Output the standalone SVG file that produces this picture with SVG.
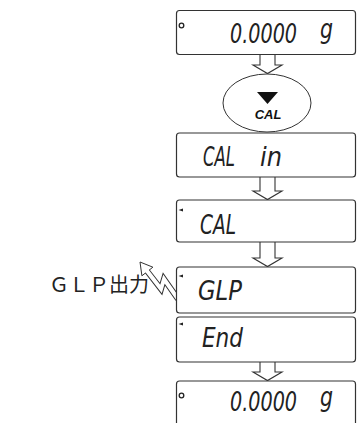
<svg xmlns="http://www.w3.org/2000/svg" width="363" height="423" viewBox="0 0 363 423">
<style>
.box{fill:#fff;stroke:#333;stroke-width:1.2}
.arr{fill:#fff;stroke:#333;stroke-width:1.1}
.seg{font-family:"DejaVu Sans","Liberation Sans",sans-serif;font-stretch:condensed;font-style:italic;font-size:26px;fill:#222}
.ind{fill:none;stroke:#222;stroke-width:1.3}
.lbl{font-family:"Noto Sans CJK JP","Noto Sans CJK SC",sans-serif;font-size:20px;fill:#222}
</style>
<g id="connectors">
<path class="arr" d="M260,54 V65 H253 L267.5,73.5 L282,65 H275 V54"/>
<path class="arr" d="M260,177 V191 H253 L267.5,199.5 L282,191 H275 V177"/>
<path class="arr" d="M260,242 V258 H253 L267.5,266.5 L282,258 H275 V242"/>
<path class="arr" d="M260,362 V372 H253 L267.5,380.5 L282,372 H275 V362"/>
<g id="bolt">
<polyline points="147.4,271.5 161,289 164,279 178,299" fill="none" stroke="#333" stroke-width="6" stroke-linejoin="miter" stroke-miterlimit="10"/>
<polygon points="140,262 152.9,267.2 141.9,275.8" fill="#fff" stroke="#333" stroke-width="1"/>
<polyline points="146.5,270.3 161,289 164,279 178,299" fill="none" stroke="#fff" stroke-width="4" stroke-linejoin="miter" stroke-miterlimit="10"/>
</g>
</g>
<g id="n1">
<rect class="box" x="176.5" y="10.5" width="179" height="44" rx="3"/>
<circle class="ind" cx="181.5" cy="25.5" r="2.3"/>
<text class="seg" x="230" y="43" textLength="67" lengthAdjust="spacingAndGlyphs">0.0000</text>
<text class="seg" x="320" y="38" textLength="13" lengthAdjust="spacingAndGlyphs">g</text>
</g>
<g id="n2">
<ellipse cx="267" cy="103" rx="44" ry="29" fill="#fff" stroke="#333" stroke-width="1"/>
<polygon points="257,92 278,92 267.5,104" fill="#111"/>
<text x="268" y="119" text-anchor="middle" font-family="Liberation Sans, Arial, sans-serif" font-weight="bold" font-style="italic" font-size="13" fill="#111">CAL</text>
</g>
<g id="n3">
<rect class="box" x="176.5" y="133" width="179" height="44" rx="3"/>
<text class="seg" y="166"><tspan x="203" textLength="32" lengthAdjust="spacingAndGlyphs">CAL</tspan> <tspan x="260" textLength="22" lengthAdjust="spacingAndGlyphs">in</tspan></text>
</g>
<g id="n4">
<rect class="box" x="176.5" y="200" width="179" height="42" rx="3"/>
<polygon points="178.5,210 183,208.5 183,211.5" fill="#222"/>
<text class="seg" x="200" y="234" textLength="36" lengthAdjust="spacingAndGlyphs">CAL</text>
</g>
<g id="n5">
<rect class="box" x="176.5" y="267" width="179" height="46" rx="3"/>
<polygon points="178.5,276 183,274.5 183,277.5" fill="#222"/>
<text class="seg" x="198" y="300" textLength="44" lengthAdjust="spacingAndGlyphs">GLP</text>
</g>
<g id="n6">
<rect class="box" x="176.5" y="317" width="179" height="45" rx="3"/>
<polygon points="178.5,324 183,322.5 183,325.5" fill="#222"/>
<text class="seg" x="202" y="347" textLength="41" lengthAdjust="spacingAndGlyphs">End</text>
</g>
<g id="n7">
<rect class="box" x="176.5" y="381" width="179" height="50" rx="3"/>
<circle class="ind" cx="181.5" cy="395.5" r="2.3"/>
<text class="seg" x="230" y="411" textLength="67" lengthAdjust="spacingAndGlyphs">0.0000</text>
<text class="seg" x="320" y="406" textLength="13" lengthAdjust="spacingAndGlyphs">g</text>
</g>
<g id="label">
<text class="lbl" x="49" y="292">ＧＬＰ出力</text>
</g>
</svg>
